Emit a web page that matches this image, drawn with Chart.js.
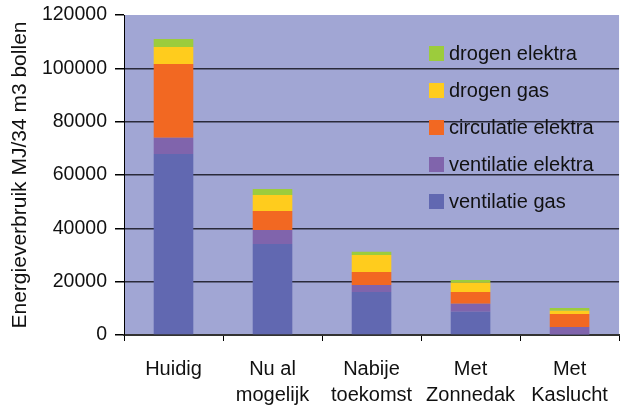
<!DOCTYPE html>
<html>
<head>
<meta charset="utf-8">
<script src="https://cdn.jsdelivr.net/npm/chart.js@4"></script>
<style>
  body { margin: 0; background: #fff; }
  .wrap { position: relative; width: 623px; height: 406px; }
  #legend {
    position: absolute; left: 429px; top: 35px;
    font-family: 'Liberation Sans', Arial, sans-serif; font-size: 20px; color: #111;
  }
  .row { display: flex; align-items: center; height: 37px; }
  .sw { width: 15px; height: 15px; margin-right: 5px; }
</style>
</head>
<body>
<div class="wrap">
  <canvas id="energyChart" width="623" height="406"></canvas>
  <div id="legend"></div>
</div>
<script>
/* ── DATA ── */
const categories = [['Huidig'], ['Nu al', 'mogelijk'], ['Nabije', 'toekomst'], ['Met', 'Zonnedak'], ['Met', 'Kaslucht']];

const ventilatieGas     = [67900, 34100, 16100, 8700, 200];
const ventilatieElektra = [6100, 5300, 2650, 3000, 2800];
const circulatieElektra = [27600, 7100, 4850, 4400, 4900];
const drogenGas         = [6400, 6000, 6400, 3500, 1200];
const drogenElektra     = [3000, 2250, 1200, 1000, 1000];

const yTicks = [0, 20000, 40000, 60000, 80000, 100000, 120000];

const fontFamily = "'Liberation Sans', Arial, sans-serif";

/* ── PLOT BACKGROUND ── */
const plotBg = {
    id: 'plotBg',
    beforeDraw(chart) {
        const { ctx, chartArea: a } = chart;
        ctx.save();
        ctx.fillStyle = '#a1a6d4';
        ctx.fillRect(a.left, a.top, a.right - a.left, a.bottom - a.top);
        ctx.restore();
    }
};

const ctx = document.getElementById('energyChart');

const energyChart = new Chart(ctx, {
    type: 'bar',
    data: {
        labels: categories,
        datasets: [
            { label: 'ventilatie gas', data: ventilatieGas, backgroundColor: '#6168b1' },
            { label: 'ventilatie elektra', data: ventilatieElektra, backgroundColor: '#8064ac' },
            { label: 'circulatie elektra', data: circulatieElektra, backgroundColor: '#f26822' },
            { label: 'drogen gas', data: drogenGas, backgroundColor: '#ffcc1d' },
            { label: 'drogen elektra', data: drogenElektra, backgroundColor: '#9ccc3c' }
        ]
    },
    options: {
        responsive: false,
        animation: false,
        layout: { padding: { top: 15, right: 1, left: 0, bottom: 0 } },
        datasets: {
            bar: { categoryPercentage: 1, barPercentage: 0.4 }
        },
        plugins: {
            legend: { display: false },
            tooltip: { enabled: false }
        },
        scales: {
            x: {
                stacked: true,
                afterFit(scale) { scale.height = 71; },
                grid: {
                    drawOnChartArea: false,
                    tickLength: 6,
                    tickColor: '#000'
                },
                border: { color: '#333', width: 2 },
                ticks: {
                    color: '#111',
                    padding: 15,
                    maxRotation: 0,
                    autoSkip: false,
                    font: { family: fontFamily, size: 20, lineHeight: 1.3 }
                }
            },
            y: {
                stacked: true,
                min: 0,
                max: 120000,
                afterFit(scale) {
                    scale.width = 124;
                    scale.paddingTop = 0;
                    scale.paddingBottom = 0;
                },
                afterBuildTicks(scale) {
                    scale.ticks = yTicks.map(v => ({ value: v }));
                },
                grid: {
                    color: c => (c.tick && (c.tick.value === 120000 || c.tick.value === 0)) ? 'rgba(0,0,0,0)' : '#2a2a3a',
                    lineWidth: 1.5,
                    tickLength: 9,
                    tickColor: '#000'
                },
                border: { color: '#000', width: 1 },
                ticks: {
                    color: '#111',
                    padding: 8,
                    callback: v => String(v),
                    font: { family: fontFamily, size: 19.5 }
                },
                title: {
                    display: true,
                    text: 'Energieverbruik MJ/34 m3 bollen',
                    color: '#111',
                    padding: { top: 8, bottom: 0 },
                    font: { family: fontFamily, size: 21 }
                }
            }
        }
    },
    plugins: [plotBg]
});

/* ── LEGEND (reversed, inside plot) ── */
const legendEl = document.getElementById('legend');

energyChart.data.datasets.slice().reverse().forEach(ds => {
    const row = document.createElement('div');
    row.className = 'row';
    const sw = document.createElement('span');
    sw.className = 'sw';
    sw.style.background = ds.backgroundColor;
    const txt = document.createElement('span');
    txt.textContent = ds.label;
    row.appendChild(sw);
    row.appendChild(txt);
    legendEl.appendChild(row);
});
</script>
</body>
</html>
